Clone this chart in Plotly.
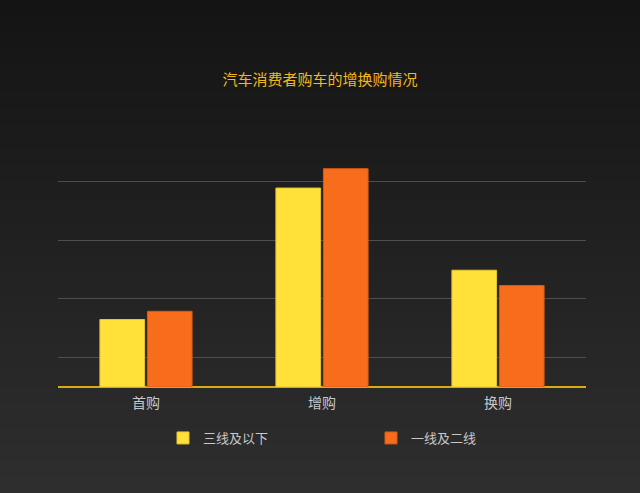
import plotly.graph_objects as go

# data (arbitrary units, axis values are hidden)
categories = ["首购", "增购", "换购"]
tier3_below = [11.5, 33.9, 19.9]
tier1_2 = [12.9, 37.2, 17.3]
series_names = ["三线及以下", "一线及二线"]

W, H = 640, 493
margin = dict(l=58, r=54, t=164, b=106)
plot_w = W - margin["l"] - margin["r"]
plot_h = H - margin["t"] - margin["b"]

fig = go.Figure()

fig.add_trace(go.Bar(
    x=categories, y=tier3_below, name=series_names[0],
    marker=dict(color="#ffe13a", line=dict(color="#e8c52c", width=1)),
))
fig.add_trace(go.Bar(
    x=categories, y=tier1_2, name=series_names[1],
    marker=dict(color="#f76d1c", line=dict(color="#d95a12", width=1)),
))

# background: vertical gradient drawn as thin bands behind everything
top_rgb = (20, 20, 20)
bot_rgb = (46, 46, 46)
n = 60
shapes = []
for i in range(n):
    t = i / (n - 1)
    c = tuple(round(a + (b - a) * t) for a, b in zip(top_rgb, bot_rgb))
    y_top_px = H * i / n
    y_bot_px = H * (i + 1) / n + 1
    shapes.append(dict(
        type="rect", xref="paper", yref="paper", layer="below",
        x0=-margin["l"] / plot_w - 0.01,
        x1=1 + margin["r"] / plot_w + 0.01,
        y0=(H - margin["b"] - y_bot_px) / plot_h,
        y1=(H - margin["b"] - y_top_px) / plot_h,
        line=dict(width=0),
        fillcolor="rgb(%d,%d,%d)" % c,
    ))

fig.update_layout(
    width=W, height=H,
    margin=margin,
    paper_bgcolor="#222222",
    plot_bgcolor="rgba(0,0,0,0)",
    shapes=shapes,
    font=dict(family="Noto Sans CJK SC", color="#c8c8c8"),
    title=dict(
        text="汽车消费者购车的增换购情况",
        x=0.5, xanchor="center", y=1 - 80 / H, yanchor="middle",
        font=dict(size=15, color="#f2b81c"),
    ),
    barmode="group",
    bargap=0.46,
    bargroupgap=0.06,
    xaxis=dict(
        showgrid=False,
        showline=False,
        ticks="", tickfont=dict(size=14, color="#c8c8c8"),
        ticklabelstandoff=6,
    ),
    yaxis=dict(
        range=[0, 38],
        tickvals=[5, 15, 25, 35],
        showticklabels=False,
        gridcolor="#4e4e4e", gridwidth=1,
        zeroline=True, zerolinecolor="#d8aa14", zerolinewidth=1.5,
    ),
    legend=dict(
        orientation="h",
        x=(163 - margin["l"]) / plot_w, xanchor="left",
        y=-(438 - (H - margin["b"])) / plot_h, yanchor="middle",
        entrywidth=163, entrywidthmode="pixels",
        font=dict(size=13, color="#c8c8c8"),
        bgcolor="rgba(0,0,0,0)",
    ),
    showlegend=True,
)

fig.write_html(
    "out.html",
    config={"displayModeBar": False},
    post_script="document.body.style.margin='0';",
)
